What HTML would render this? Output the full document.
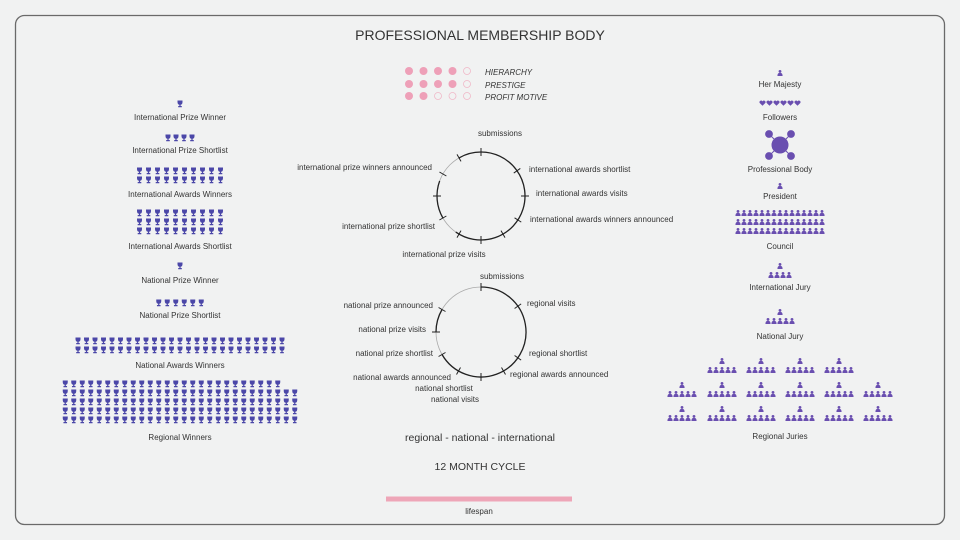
<!DOCTYPE html>
<html><head><meta charset="utf-8"><style>
html,body{margin:0;padding:0;background:#f1f2f2;}
svg{display:block;font-family:"Liberation Sans",sans-serif;}
text{fill:#333;}
.l{font-size:8px;}
</style></head><body>
<svg id="s" width="960" height="540" viewBox="0 0 960 540" xmlns="http://www.w3.org/2000/svg">
<defs>
<g id="tr"><path d="M-2.5,-3.5 H2.5 V-2 Q2.5,0.5 0.6,0.8 V2 H1.8 V3.3 H-1.8 V2 H-0.6 V0.8 Q-2.5,0.5 -2.5,-2 Z" fill="#4b47a8"/></g>
<g id="pp"><circle cx="0" cy="-1.6" r="1.4" fill="#6a4fb0"/><path d="M-2.6,3 Q-2.6,-0.2 0,-0.2 Q2.6,-0.2 2.6,3 Z" fill="#6a4fb0"/></g>
<g id="ht"><path d="M0,2.8 L-2.8,0 A1.45,1.45 0 0 1 0,-1.6 A1.45,1.45 0 0 1 2.8,0 Z" fill="#6a4fb0"/></g>
</defs>
<rect x="15.5" y="15.5" width="929" height="509" rx="9" fill="#f1f2f2" stroke="#6a6a6a" stroke-width="1.3"/>
<text x="480" y="40" text-anchor="middle" font-size="14">PROFESSIONAL MEMBERSHIP BODY</text>

<g id="dots"></g>
<g font-size="8" font-style="italic">
<text x="485" y="75">HIERARCHY</text>
<text x="485" y="88">PRESTIGE</text>
<text x="485" y="100">PROFIT MOTIVE</text>
</g>

<g class="l" text-anchor="middle">
<text x="180" y="120">International Prize Winner</text>
<text x="180" y="153">International Prize Shortlist</text>
<text x="180" y="197">International Awards Winners</text>
<text x="180" y="249">International Awards Shortlist</text>
<text x="180" y="283">National Prize Winner</text>
<text x="180" y="318">National Prize Shortlist</text>
<text x="180" y="368">National Awards Winners</text>
<text x="180" y="440">Regional Winners</text>

<text x="780" y="87">Her Majesty</text>
<text x="780" y="120">Followers</text>
<text x="780" y="172">Professional Body</text>
<text x="780" y="199">President</text>
<text x="780" y="249">Council</text>
<text x="780" y="290">International Jury</text>
<text x="780" y="339">National Jury</text>
<text x="780" y="439">Regional Juries</text>
</g>

<g fill="#6a4fb0" stroke="#6a4fb0">
<line x1="769" y1="134" x2="791" y2="156" stroke-width="1"/>
<line x1="791" y1="134" x2="769" y2="156" stroke-width="1"/>
<circle cx="780" cy="145" r="8"/>
<circle cx="769" cy="134" r="3.4"/><circle cx="791" cy="134" r="3.4"/>
<circle cx="769" cy="156" r="3.4"/><circle cx="791" cy="156" r="3.4"/>
</g>

<g id="circ" fill="none"></g>

<g class="l">
<text x="500" y="136" text-anchor="middle">submissions</text>
<text x="529" y="172">international awards shortlist</text>
<text x="536" y="196">international awards visits</text>
<text x="530" y="222">international awards winners announced</text>
<text x="444" y="257" text-anchor="middle">international prize visits</text>
<text x="435" y="229" text-anchor="end">international prize shortlist</text>
<text x="432" y="170" text-anchor="end">international prize winners announced</text>

<text x="502" y="279" text-anchor="middle">submissions</text>
<text x="527" y="306">regional visits</text>
<text x="529" y="356">regional shortlist</text>
<text x="510" y="377">regional awards announced</text>
<text x="433" y="308" text-anchor="end">national prize announced</text>
<text x="426" y="332" text-anchor="end">national prize visits</text>
<text x="433" y="356" text-anchor="end">national prize shortlist</text>
<text x="451" y="380" text-anchor="end">national awards announced</text>
<text x="444" y="391" text-anchor="middle">national shortlist</text>
<text x="455" y="402" text-anchor="middle">national visits</text>
</g>

<text x="480" y="441" text-anchor="middle" font-size="10.5">regional - national - international</text>
<text x="480" y="470" text-anchor="middle" font-size="10.5">12 MONTH CYCLE</text>
<rect x="386" y="496.5" width="186" height="5" fill="#eea6b8"/>
<text x="479" y="514" text-anchor="middle" class="l">lifespan</text>
<g id="icons"></g>
</svg>
<script>
var NS="http://www.w3.org/2000/svg",ic=document.getElementById("icons");
function u(id,x,y){var e=document.createElementNS(NS,"use");e.setAttribute("href","#"+id);e.setAttribute("x",x);e.setAttribute("y",y);ic.appendChild(e);}
function row(id,n,cx,y,sp){var x0=cx-(n-1)*sp/2;for(var i=0;i<n;i++)u(id,x0+i*sp,y);}
row("tr",1,180,104,9);row("tr",4,180,138,8);
row("tr",10,180,171,9);row("tr",10,180,180,9);
row("tr",10,180,213,9);row("tr",10,180,222,9);row("tr",10,180,231,9);
row("tr",1,180,266,9);row("tr",6,180,303,8.5);
row("tr",25,180,341,8.5);row("tr",25,180,350,8.5);
row("tr",26,171.5,384,8.5);for(var r=1;r<5;r++)row("tr",28,180,384+r*9,8.5);
u("pp",780,73);row("ht",6,780,103,7);u("pp",780,186);
for(var r=0;r<3;r++)row("pp",15,780,213+r*9,6);
u("pp",780,266);row("pp",4,780,275,6);
u("pp",780,312);row("pp",5,780,321,6);
[722,761,800,839].forEach(function(x){u("pp",x,361);row("pp",5,x,370,6);});
[682,722,761,800,839,878].forEach(function(x){u("pp",x,385);row("pp",5,x,394,6);u("pp",x,409);row("pp",5,x,418,6);});
var d=document.getElementById("dots"),fills=[4,4,2];
[71,84,96].forEach(function(y,ri){for(var i=0;i<5;i++){var c=document.createElementNS(NS,"circle");c.setAttribute("cx",409+i*14.5);c.setAttribute("cy",y);c.setAttribute("r",i<fills[ri]?4:3.5);
if(i<fills[ri]){c.setAttribute("fill","#eea0b8");}else{c.setAttribute("fill","none");c.setAttribute("stroke","#f0b8c8");c.setAttribute("stroke-width","0.8");}d.appendChild(c);}});
var g=document.getElementById("circ");
function circle(cx,cy,r,dark,ticks){
 var c=document.createElementNS(NS,"circle");c.setAttribute("cx",cx);c.setAttribute("cy",cy);c.setAttribute("r",r);c.setAttribute("stroke","#aaa");c.setAttribute("stroke-width","0.8");g.appendChild(c);
 dark.forEach(function(a){var p1=pt(cx,cy,r,a[0]),p2=pt(cx,cy,r,a[1]);var large=(a[1]-a[0])>180?1:0;
  var p=document.createElementNS(NS,"path");p.setAttribute("d","M"+p1+" A"+r+","+r+" 0 "+large+" 1 "+p2);p.setAttribute("stroke","#222");p.setAttribute("stroke-width","1.3");g.appendChild(p);});
 ticks.forEach(function(a){var a1=pt(cx,cy,r-4,a),a2=pt(cx,cy,r+4,a);var l=document.createElementNS(NS,"path");l.setAttribute("d","M"+a1+" L"+a2);l.setAttribute("stroke","#222");l.setAttribute("stroke-width","1");g.appendChild(l);});
}
function pt(cx,cy,r,a){var t=a*Math.PI/180;return (cx+r*Math.sin(t)).toFixed(2)+","+(cy-r*Math.cos(t)).toFixed(2);}
circle(481,196,44,[[0,215],[240,290],[330,360]],[0,55,90,123,150,180,210,240,270,300,330]);
circle(481,332,45,[[0,240],[270,300]],[0,55,125,150,180,210,240,270,300]);
</script>
</body></html>
